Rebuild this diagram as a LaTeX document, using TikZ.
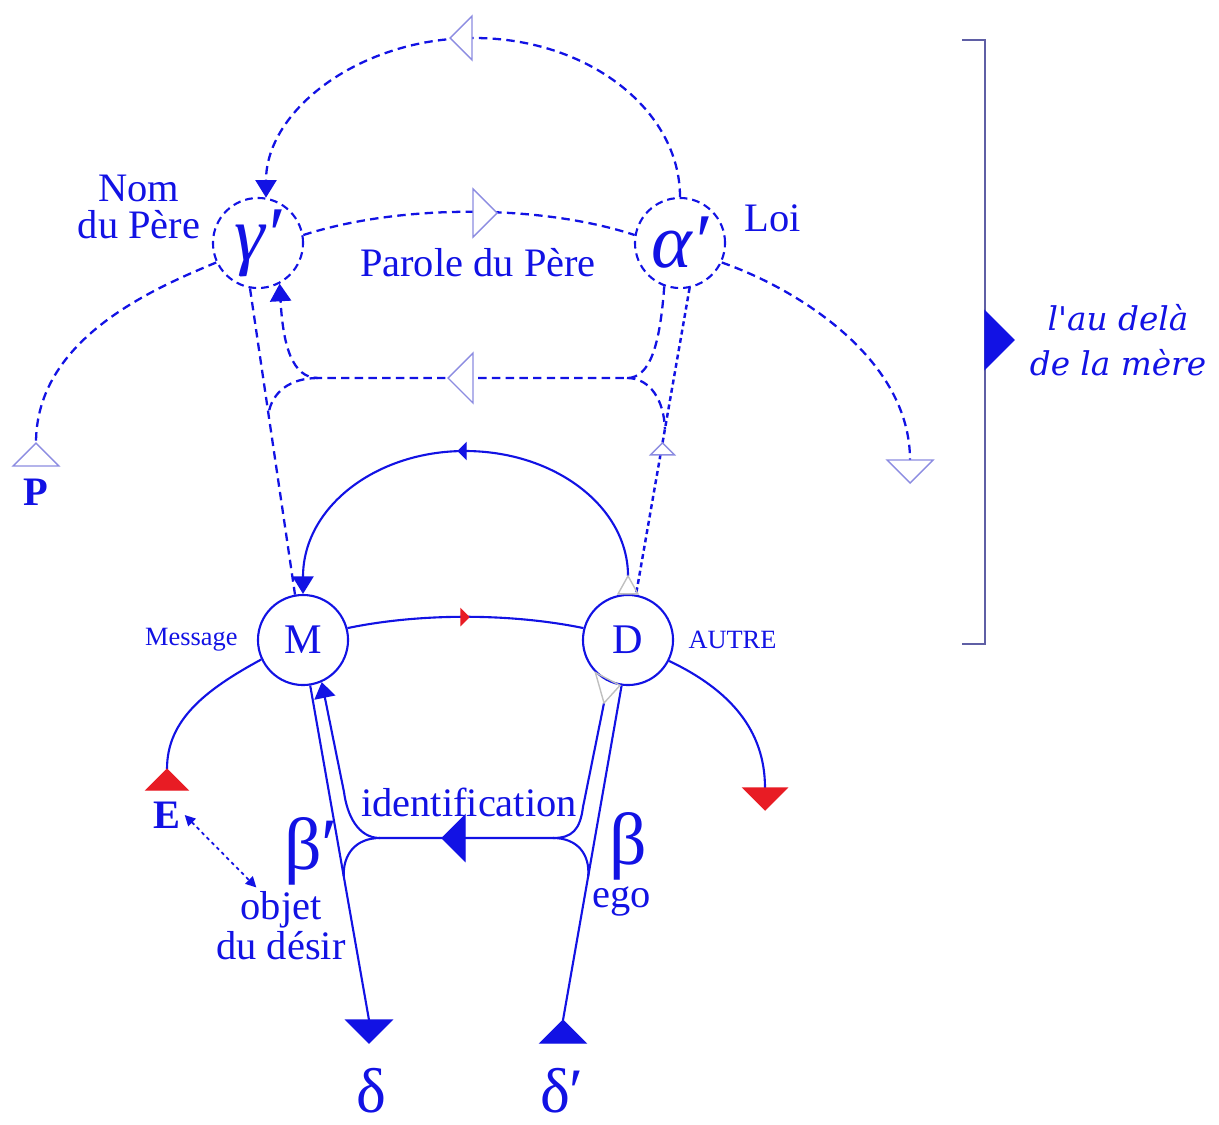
\documentclass[tikz,border=0pt]{standalone}
\usepackage{fontspec}
\setmainfont{Liberation Serif}
\newfontfamily\dejaserif{DejaVu Serif}
\usepackage{tikz}
\usetikzlibrary{arrows.meta,calc,positioning}
\definecolor{lacblue}{RGB}{18,18,228}
\definecolor{lacpale}{RGB}{140,140,225}
\definecolor{lacred}{RGB}{232,28,36}
\definecolor{lacgrey}{RGB}{95,95,165}
\newcommand{\tri}[4]{%
  \filldraw[#4] (#1) -- ++({(#2)-(#3)},{(#3)+(#2)}) -- ++({2*(#3)},{-2*(#2)}) -- cycle;
}

\begin{document}
\begin{tikzpicture}[x=.01cm,y=-.01cm,color=lacblue,font=\fontsize{11.5}{10.3}\selectfont,
    sol/.style={line width=.6pt},
    dsh/.style={line width=.65pt,dash pattern=on 2.4pt off 1.5pt},
    dshs/.style={line width=.7pt,dash pattern=on 1.4pt off 1pt},
    lacring/.style={circle,draw,line width=.6pt,fill=white,minimum size=.9cm,inner sep=0pt},
    dring/.style={lacring,dash pattern=on 2.2pt off 1.4pt},
    endtip/.style={-{Triangle[width=6pt,length=5pt]}},
    hollowtri/.style={draw=lacpale,fill=white,line width=.4pt},
    bluetri/.style={fill=lacblue,draw=lacblue,line width=.3pt},
    redtri/.style={fill=lacred,draw=lacred,line width=.3pt},
    greytri/.style={draw=gray!50,line width=.4pt},
    greekup/.style={font=\fontsize{18}{18}\selectfont,inner sep=0pt},
    greekbig/.style={font=\fontsize{21}{21}\selectfont,inner sep=0pt},
    smalllab/.style={font=\fontsize{7.5}{9}\selectfont}]
  \useasboundingbox (0,0) rectangle (1219,1124);

  \node[dring] (gam) at (258,243) {\fontsize{22}{22}\selectfont\itshape γ′};
  \node[dring] (alp) at (680,243) {\fontsize{22}{22}\selectfont\itshape α′};
  \node[lacring] (M) at (303,640) {\fontsize{12}{12}\selectfont M};
  \node[lacring] (D) at (628,640) {\fontsize{12}{12}\selectfont D};

  \node[align=center] (nom) at (139,207) {Nom\\du Père};
  \node (loi) at (773,218) {Loi};
  \node (parole) at (478,263) {Parole du Père};
  \node (P) at (36,492) {\textbf{P}};
  \node[smalllab,left=.07cm of M] (msg) {Message};
  \node[smalllab,right=.02cm of D] (autre) {AUTRE};
  \node[inner sep=1pt] (E) at (167,815) {\textbf{E}};
  \node (ident) at (469,802) {identification};
  \node[greekbig] (bp) at (311,851) {β′};
  \node[greekbig] (b) at (628,846) {β};
  \node[inner sep=1pt] (ego) at (622,901) {ego};
  \node[inner sep=1pt] (obj) at (281,910) {objet};
  \node[below=-.14cm of obj] (desir) {du désir};
  \node[greekup] (dlt) at (371,1091) {δ};
  \node[greekup] (dltp) at (562,1091) {δ′};
  \node[align=center,font=\fontsize{9.3}{12.8}\selectfont\dejaserif\itshape] (mere) at (1118,340) {l'au delà\\de la mère};

  \coordinate (Ptop) at (36,443);
  \coordinate (Rtop) at (910,460);
  \coordinate (jl) at (318,378);
  \coordinate (jr) at (627,378);
  \coordinate (gl) at ($(gam.260)!.41!(M.100)$);
  \coordinate (ar) at ($(alp.-78)!.46!(D.80)$);
  \coordinate (Dtop) at ($(D.north)+(0,-18)$);
  \coordinate (Etop) at (167,769);
  \coordinate (Rd) at (765,788);
  \coordinate (dl) at (369,1020);
  \coordinate (dr) at (563,1020);
  \coordinate (Dgr) at (604,703);
  \coordinate (ib) at (380,838);
  \coordinate (ic) at (553,838);
  \coordinate (bt) at (962,40);
  \coordinate (bb) at (962,644);

  \draw[dsh,endtip] (alp.north) .. controls (680,110) and (588,38) .. (474,38)
    .. controls (360,38) and (266,110) .. (gam.80);
  \draw[dsh] (gam.10) .. controls (400,204) and (540,204) .. (alp.170);
  \draw[dsh] (gam.205) .. controls (150,290) and (36,340) .. (Ptop);
  \draw[dsh] (alp.-25) .. controls (800,290) and (910,360) .. (Rtop);
  \draw[dsh] (gam.260) -- (M.100);
  \draw[dshs] (alp.-78) -- (D.80);
  \draw[dsh,endtip] (alp.-110) .. controls (660,345) and (650,378) .. (jr) -- (jl)
    .. controls (292,378) and (283,345) .. (gam.-62);
  \draw[dsh] (jl) .. controls (290,378) and (272,392) .. (gl);
  \draw[dsh] (jr) .. controls (650,378) and (664,400) .. (ar);

  \draw[sol,endtip] (Dtop) .. controls (628,507) and (555,451) .. (465,451)
    .. controls (376,451) and (303,507) .. (M.north);
  \draw[greytri] (Dtop) -- ($(D.north)+(-10,0)$) -- ($(D.north)+(10,0)$) -- cycle;
  \draw[sol] (M.15) .. controls (420,613) and (510,613) .. (D.165);
  \draw[sol] (M.205) .. controls (205,690) and (167,720) .. (Etop);
  \draw[sol] (D.-27) .. controls (730,690) and (765,730) .. (Rd);
  \draw[sol] (M.-81) -- (dl);
  \draw[sol] (D.-98) -- (dr);
  \draw[sol,-{Triangle[width=6pt,length=4.5pt]}] (Dgr) -- (583,807)
    .. controls (580,830) and (572,838) .. (ic) -- (ib)
    .. controls (358,838) and (347,815) .. (344,792) -- (M.-66);
  \draw[greytri] (Dgr) -- (D.-135) -- (D.-100) -- cycle;
  \draw[sol] (ib) .. controls (355,838) and (343,855) .. ($(M.-81)!.57!(dl)$);
  \draw[sol] (ic) .. controls (578,838) and (590,855) .. ($(D.-98)!.57!(dr)$);
  \draw[line width=.5pt,dash pattern=on 1pt off 1pt,
    {Triangle[width=3pt,length=3pt]}-{Triangle[width=3pt,length=3pt]}]
    (E.east) -- ($(obj.north west)+(20,0)$);
  \draw[lacgrey,line width=.8pt] (bt) -- (985,40) -- (985,644) -- (bb);

  \tri{450,38}{22}{0}{hollowtri}
  \tri{497,213}{-24}{0}{hollowtri}
  \tri{448,378}{25}{0}{hollowtri}
  \tri{$(alp.-78)!.505!(D.80)$}{0}{12}{hollowtri}
  \tri{Ptop}{0}{23}{hollowtri}
  \tri{$(Rtop)+(0,23)$}{0}{-23}{hollowtri}
  \tri{458,451}{8}{0}{bluetri}
  \tri{469,617}{-8}{0}{redtri}
  \tri{Etop}{0}{21}{redtri}
  \tri{765,810}{0}{-22}{redtri}
  \tri{$(dl)+(0,23)$}{0}{-23}{bluetri}
  \tri{dr}{0}{23}{bluetri}
  \tri{442,838}{23}{0}{bluetri}
  \tri{1014,340}{-29}{0}{bluetri}
\end{tikzpicture}
\end{document}
